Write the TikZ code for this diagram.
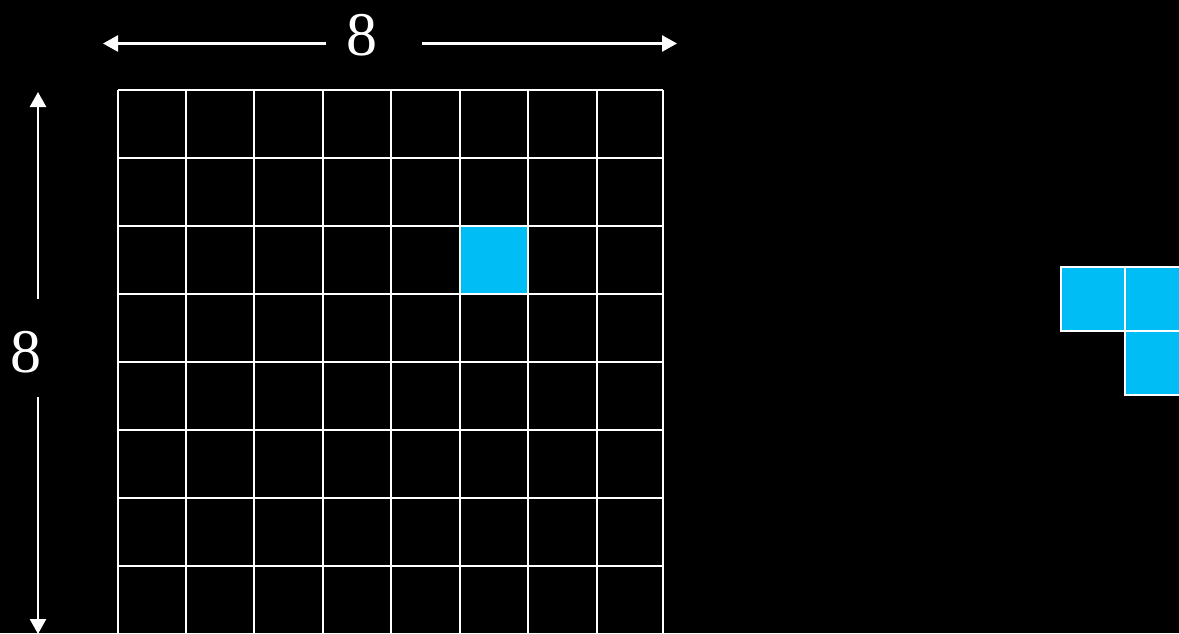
\documentclass[tikz,border=0pt]{standalone}
\usepackage{fontspec}
\setmainfont{Liberation Serif}
\usetikzlibrary{arrows.meta}
\definecolor{cellblue}{RGB}{0,190,245}
\begin{document}
\begin{tikzpicture}[x=1pt,y=-1pt,
  gridline/.style={draw=white,line width=2.5pt},
  dimarrow/.style={draw=white,line width=2.5pt,-{Triangle[length=15pt,width=16pt]}},
  dimlabel/.style={text=white,font=\fontsize{62}{62}\selectfont,inner sep=0pt},
  bluecell/.style={fill=cellblue,draw=white,line width=2.5pt}]
\fill[black] (0,0) rectangle (1179,633);
\useasboundingbox (0,0) rectangle (1179,633);
% highlighted cell
\path[bluecell] (460,226) rectangle (528,294);
% grid
\foreach \x in {118,186,254,323,391,460,528,597,663}
  \draw[gridline] (\x,90) -- (\x,640);
\foreach \y in {90,158,226,294,362,430,498,566,634}
  \draw[gridline] (118,\y) -- (663,\y);
% dimension labels
\node[dimlabel] (top8) at (362,35) {8};
\node[dimlabel] (left8) at (26,352) {8};
\coordinate (tl) at (103,43.5);
\coordinate (tr) at (677,43.5);
\coordinate (lt) at (38,92);
\coordinate (lb) at (38,634);
\coordinate (tla) at (326,43.5);
\coordinate (tra) at (422,43.5);
\coordinate (lta) at (38,299);
\coordinate (lba) at (38,397);
\draw[dimarrow] (tla) -- (tl);
\draw[dimarrow] (tra) -- (tr);
\draw[dimarrow] (lta) -- (lt);
\draw[dimarrow] (lba) -- (lb);
% tromino
\path[bluecell] (1061,267) rectangle (1125,331);
\path[bluecell] (1125,267) rectangle (1189,331);
\path[bluecell] (1125,331) rectangle (1189,395);
\end{tikzpicture}
\end{document}
